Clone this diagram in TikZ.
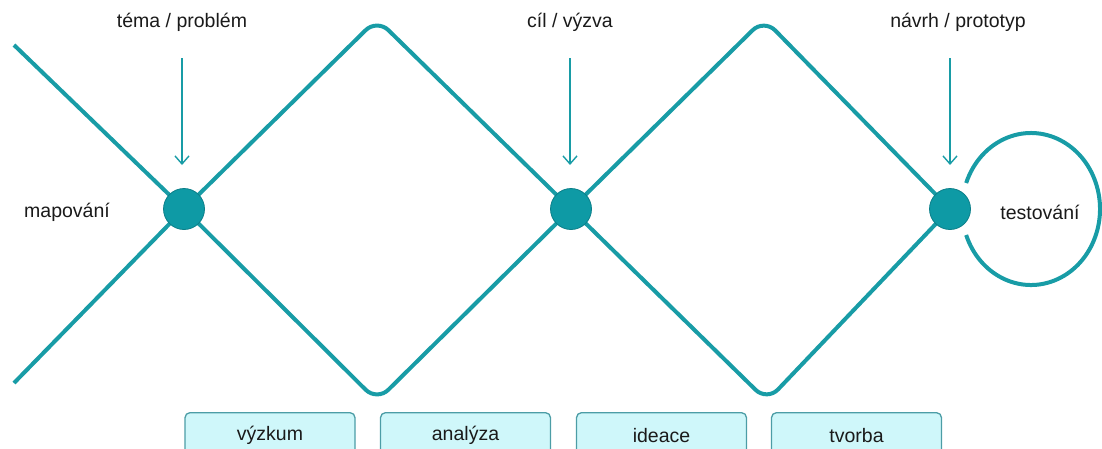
\documentclass[tikz,border=0pt]{standalone}
\usepackage{fontspec}
\setmainfont{Liberation Sans}
\usetikzlibrary{arrows.meta}
\definecolor{tealline}{HTML}{189CA6}
\definecolor{tealdot}{HTML}{0E9AA5}
\definecolor{tealdotb}{HTML}{0B7F89}
\definecolor{boxfill}{HTML}{CFF7FA}
\definecolor{boxline}{HTML}{4C9DA6}
\definecolor{txt}{HTML}{1A1A1A}
\begin{document}
\begin{tikzpicture}[x=1pt,y=-1pt,
  flow/.style={draw=tealline,line width=4pt},
  dotnode/.style={circle,fill=tealdot,draw=tealdotb,line width=0.8pt,minimum size=41pt,inner sep=0pt},
  lbl/.style={text=txt,font=\fontsize{19.5}{22}\selectfont,inner sep=0pt},
  arr/.style={draw=tealline,line width=1.4pt,-{Straight Barb[length=8pt,width=14pt,line width=1.4pt]}},
  phase/.style={draw=boxline,fill=boxfill,line width=1.3pt,rounded corners=5pt,minimum width=170pt,minimum height=46pt,anchor=north,text=txt,font=\fontsize{19.5}{22}\selectfont}
]
\useasboundingbox (0,0) rectangle (1102,448);
% centres of the crossing points
\coordinate (c1) at (184,209);
\coordinate (c2) at (571,209);
\coordinate (c3) at (950,209);
\coordinate (a0) at (14,45);
\coordinate (b0) at (14,383);
\coordinate (t1) at (377,19);
\coordinate (u1) at (377,401);
\coordinate (t2) at (764,19);
\coordinate (u2) at (767,401);
% the two zig-zag strands
\draw[flow,rounded corners=16pt] (a0) -- (c1) -- (u1) -- (c2) -- (t2) -- (c3);
\draw[flow,rounded corners=16pt] (b0) -- (c1) -- (t1) -- (c2) -- (u2) -- (c3);
% testing loop
\coordinate (tc) at (1031,209);
\draw[flow] (tc) ++(160:69 and 76) arc[start angle=160,end angle=-160,x radius=69,y radius=76];
% dots
\node[dotnode] (d1) at (c1) {};
\node[dotnode] (d2) at (c2) {};
\node[dotnode] (d3) at (c3) {};
% top labels and arrows
\node[lbl] (l1) at (182,22) {téma / problém};
\node[lbl] (l2) at (570,22) {cíl / výzva};
\node[lbl] (l3) at (958,22) {návrh / prototyp};
\coordinate (s1) at (182,58); \coordinate (e1) at (182,165);
\coordinate (s2) at (570,58); \coordinate (e2) at (570,165);
\coordinate (s3) at (950,58); \coordinate (e3) at (950,165);
\draw[arr] (s1) -- (e1);
\draw[arr] (s2) -- (e2);
\draw[arr] (s3) -- (e3);
% side labels
\node[lbl] (map) at (67,212) {mapování};
\node[lbl] (test) at (1040,212) {testování};
% phase boxes
\node[phase] (p1) at (270,412) {výzkum};
\node[phase] (p2) at (465.5,412) {analýza};
\node[phase] (p3) at (661.5,412) {ideace};
\node[phase] (p4) at (856.5,412) {tvorba};
\end{tikzpicture}
\end{document}
